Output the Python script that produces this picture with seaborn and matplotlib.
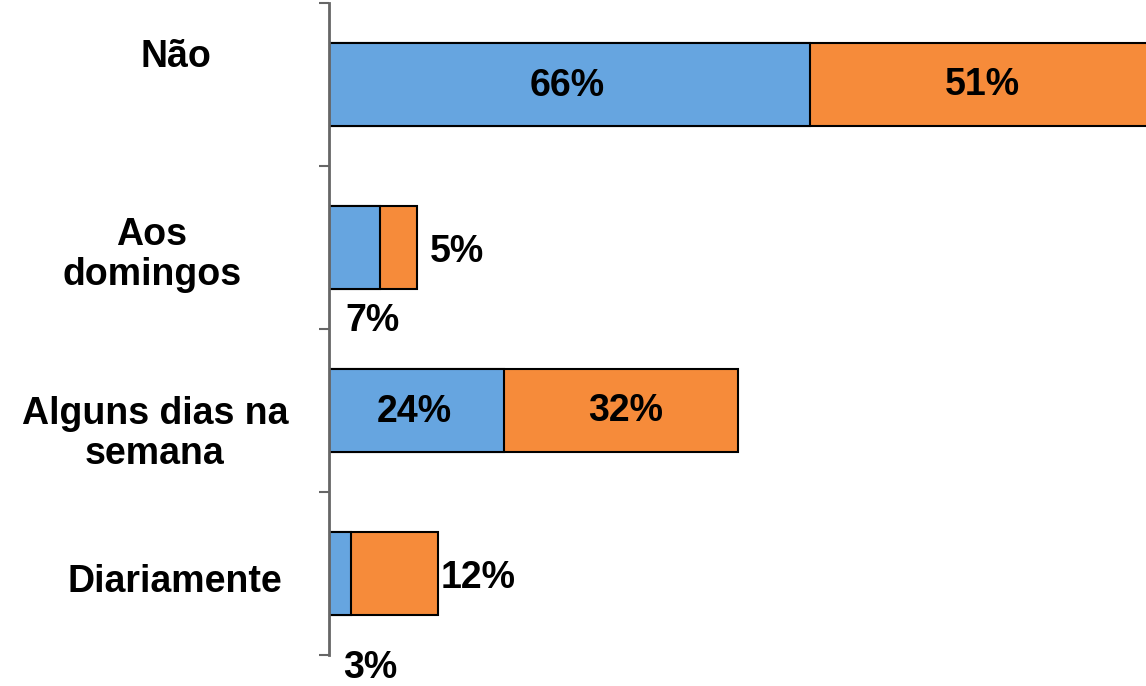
import matplotlib
matplotlib.use("Agg")
import matplotlib.pyplot as plt
import matplotlib.transforms as mtransforms
from matplotlib import font_manager
import seaborn as sns
import pandas as pd

# Data
categories = ["Não", "Aos\ndomingos", "Alguns dias na\nsemana", "Diariamente"]
blue_vals = [66, 7, 24, 3]
orange_vals = [51, 5, 32, 12]

BLUE = "#66A5E0"
ORANGE = "#F68B3A"
AXIS_GREY = "#666666"

sns.set_theme(style="white")
plt.rcParams["font.family"] = ["Liberation Sans", "DejaVu Sans"]

# make sure the regular-width Liberation Sans Bold is used (not Narrow)
bold_path = None
for f in font_manager.findSystemFonts():
    if f.endswith("LiberationSans-Bold.ttf"):
        bold_path = f
        break
if bold_path:
    fp = font_manager.FontProperties(fname=bold_path, size=27)
else:
    fp = font_manager.FontProperties(family="Liberation Sans", weight="bold", size=27)

df = pd.DataFrame({
    "cat": categories,
    "blue": blue_vals,
    "orange": orange_vals,
})
df["total"] = df["blue"] + df["orange"]

fig = plt.figure(figsize=(11.46, 6.86), dpi=100)
ax = fig.add_axes([0.2871, 0.0452, 0.7129, 0.9504])

# stacked: draw totals in orange, then blue over them
sns.barplot(data=df, x="total", y="cat", orient="h", color=ORANGE,
            edgecolor="black", linewidth=1.5, width=0.515, saturation=1, ax=ax)
sns.barplot(data=df, x="blue", y="cat", orient="h", color=BLUE,
            edgecolor="black", linewidth=1.5, width=0.515, saturation=1, ax=ax)

ax.set_xlim(0, 112)
ax.set_ylim(3.5, -0.5)
ax.set_xlabel("")
ax.set_ylabel("")
ax.set_xticks([])
ax.set_yticks([-0.5, 0.5, 1.5, 2.5, 3.5])
ax.set_yticklabels([])
ax.tick_params(axis="y", direction="out", length=7, width=1.5, color=AXIS_GREY, left=True)
for side in ["top", "right", "bottom"]:
    ax.spines[side].set_visible(False)
ax.spines["left"].set_color(AXIS_GREY)
ax.spines["left"].set_linewidth(2)

# category labels (x in figure pixels, y offset in category units)
cat_x_px = [176, 152, 155, 175]
cat_dy = [-0.17, 0.045, 0.145, 0.05]
trans = mtransforms.blended_transform_factory(fig.transFigure, ax.transData)
for i, cat in enumerate(categories):
    ax.text(cat_x_px[i] / 1146, i + cat_dy[i], cat, transform=trans,
            ha="center", va="center", multialignment="center",
            linespacing=1.15, clip_on=False, fontproperties=fp, color="black")

# value labels, placed like the reference
xmax = ax.get_xlim()[1]
below_x = {1: 6.0, 3: 5.6}
below_dy = {1: 0.45, 3: 0.58}
for i, (b, o) in enumerate(zip(blue_vals, orange_vals)):
    if b >= 10:
        ax.text(b / 2 - 0.3, i + 0.01, f"{b}%", ha="center", va="center",
                fontproperties=fp, color="black")
    else:
        ax.text(below_x[i], i + below_dy[i], f"{b}%", ha="center", va="center",
                clip_on=False, fontproperties=fp, color="black")
    if o >= 20:
        right = min(b + o, xmax)
        ax.text((b + right) / 2 + 0.6, i + 0.0, f"{o}%", ha="center", va="center",
                fontproperties=fp, color="black")
    else:
        ax.text(b + o + 5.5, i + 0.03, f"{o}%", ha="center", va="center",
                fontproperties=fp, color="black")

fig.savefig("out.png", dpi=100)
